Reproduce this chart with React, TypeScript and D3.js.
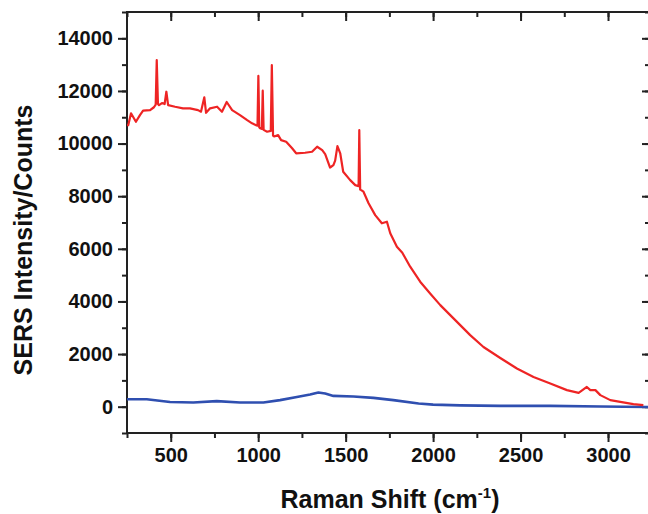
import React, { useRef, useEffect } from "react";
import * as d3 from "d3";

// Raman shift (cm-1) and counts
const sersShift = [250, 257, 273, 301, 324, 342, 382, 404, 414, 420, 427, 433, 450, 465, 475, 485, 525, 570, 610, 656, 673, 692, 702, 725, 765, 793, 820, 851, 896, 937, 965, 988, 996, 1001, 1006, 1011, 1021, 1026, 1031, 1051, 1072, 1078, 1085, 1091, 1114, 1131, 1160, 1194, 1217, 1268, 1308, 1337, 1366, 1383, 1411, 1430, 1440, 1453, 1462, 1469, 1486, 1526, 1555, 1574, 1578, 1583, 1589, 1602, 1631, 1669, 1707, 1736, 1755, 1793, 1824, 1869, 1926, 1983, 2041, 2098, 2155, 2212, 2288, 2384, 2479, 2574, 2670, 2765, 2832, 2879, 2899, 2928, 2956, 3013, 3070, 3145, 3202];
const sersCounts = [10700, 10700, 11150, 10830, 11080, 11250, 11270, 11380, 11480, 13170, 11500, 11460, 11540, 11500, 11970, 11460, 11400, 11340, 11340, 11270, 11210, 11760, 11170, 11340, 11400, 11210, 11580, 11270, 11080, 10890, 10770, 10700, 10680, 12570, 10620, 10580, 10560, 12010, 10520, 10450, 10480, 12980, 10300, 10270, 10320, 10130, 10070, 9820, 9630, 9650, 9690, 9880, 9750, 9600, 9090, 9180, 9350, 9900, 9750, 9630, 8930, 8610, 8420, 8380, 10510, 8250, 8230, 8170, 7730, 7280, 6970, 7030, 6590, 6080, 5850, 5320, 4750, 4300, 3860, 3480, 3100, 2720, 2270, 1850, 1450, 1130, 880, 630, 525, 750, 630, 630, 440, 250, 180, 95, 57];

const blankShift = [250, 363, 496, 629, 763, 896, 1030, 1125, 1221, 1297, 1344, 1383, 1430, 1545, 1659, 1773, 1917, 2000, 2155, 2384, 2670, 2956, 3230];
const blankCounts = [285, 285, 180, 160, 210, 160, 160, 250, 370, 460, 540, 500, 410, 390, 335, 250, 120, 80, 50, 30, 30, 5, -10];

const xTicks = [500, 1000, 1500, 2000, 2500, 3000];
const yTicks = [0, 2000, 4000, 6000, 8000, 10000, 12000, 14000];

export default function App() {
  const svgRef = useRef<SVGSVGElement>(null);

  useEffect(() => {
    const svg = d3.select(svgRef.current);
    svg.selectAll("*").remove();

    const left = 127, right = 650, top = 12, bottom = 433;

    const xScale = d3.scaleLinear().domain([250, 3240]).range([left, right]);
    const yScale = d3.scaleLinear().domain([-1000, 15000]).range([bottom, top]);

    const font = "'Liberation Sans', Arial, sans-serif";
    const ink = "#222";

    const xMinor = d3.range(250, 3250, 250);
    const yMinor = d3.range(-1000, 15001, 1000);

    // minor ticks first, then major axes with labels
    const styleAxis = (g) => {
      g.select(".domain").remove();
      g.selectAll("line").attr("stroke", ink).attr("stroke-width", 2);
      g.selectAll("text").attr("fill", "#111").style("font-family", font).style("font-size", "20px").style("font-weight", "bold");
    };

    // bottom
    svg.append("g").attr("transform", `translate(0,${bottom})`)
      .call(d3.axisBottom(xScale).tickValues(xMinor).tickSize(5).tickFormat(() => ""))
      .call(styleAxis);
    svg.append("g").attr("transform", `translate(0,${bottom})`)
      .call(d3.axisBottom(xScale).tickValues(xTicks).tickSize(9).tickPadding(6).tickFormat(d3.format("d")))
      .call(styleAxis);

    // top (inward)
    svg.append("g").attr("transform", `translate(0,${top})`)
      .call(d3.axisTop(xScale).tickValues(xMinor).tickSize(-5).tickFormat(() => ""))
      .call(styleAxis);
    svg.append("g").attr("transform", `translate(0,${top})`)
      .call(d3.axisTop(xScale).tickValues(xTicks).tickSize(-9).tickFormat(() => ""))
      .call(styleAxis);

    // left
    svg.append("g").attr("transform", `translate(${left},0)`)
      .call(d3.axisLeft(yScale).tickValues(yMinor).tickSize(5).tickFormat(() => ""))
      .call(styleAxis);
    svg.append("g").attr("transform", `translate(${left},0)`)
      .call(d3.axisLeft(yScale).tickValues(yTicks).tickSize(9).tickPadding(5).tickFormat(d3.format("d")))
      .call(styleAxis);

    // right (inward)
    svg.append("g").attr("transform", `translate(${right},0)`)
      .call(d3.axisRight(yScale).tickValues(yMinor).tickSize(-5).tickFormat(() => ""))
      .call(styleAxis);
    svg.append("g").attr("transform", `translate(${right},0)`)
      .call(d3.axisRight(yScale).tickValues(yTicks).tickSize(-8).tickFormat(() => ""))
      .call(styleAxis);

    // frame
    svg.append("rect")
      .attr("x", left).attr("y", top)
      .attr("width", right - left).attr("height", bottom - top)
      .attr("fill", "none").attr("stroke", ink).attr("stroke-width", 2);

    const myLine = d3.line<[number, number]>()
      .x((d) => xScale(d[0]))
      .y((d) => yScale(d[1]));

    svg.append("path")
      .datum(blankShift.map((s, i) => [s, blankCounts[i]] as [number, number]))
      .attr("d", myLine)
      .attr("fill", "none")
      .attr("stroke", "#2f4fb0")
      .attr("stroke-width", 2.6)
      .attr("stroke-linejoin", "round");

    svg.append("path")
      .datum(sersShift.map((s, i) => [s, sersCounts[i]] as [number, number]))
      .attr("d", myLine)
      .attr("fill", "none")
      .attr("stroke", "#ee2424")
      .attr("stroke-width", 2.2)
      .attr("stroke-linejoin", "round");

    // axis titles
    const xt = svg.append("text")
      .attr("x", 390).attr("y", 508)
      .attr("text-anchor", "middle")
      .attr("fill", "#111")
      .style("font-family", font).style("font-size", "25px").style("font-weight", "bold");
    xt.append("tspan").text("Raman Shift (cm");
    xt.append("tspan").attr("dy", -10).style("font-size", "15px").text("-1");
    xt.append("tspan").attr("dy", 10).text(")");

    svg.append("text")
      .attr("transform", "translate(32,240) rotate(-90)")
      .attr("text-anchor", "middle")
      .attr("fill", "#111")
      .style("font-family", font).style("font-size", "25px").style("font-weight", "bold")
      .text("SERS Intensity/Counts");
  }, []);

  return (
    <div style={{ position: "absolute", left: 0, top: 0 }}>
      <svg ref={svgRef} width={648} height={514} style={{ display: "block", background: "#fff" }} />
    </div>
  );
}
